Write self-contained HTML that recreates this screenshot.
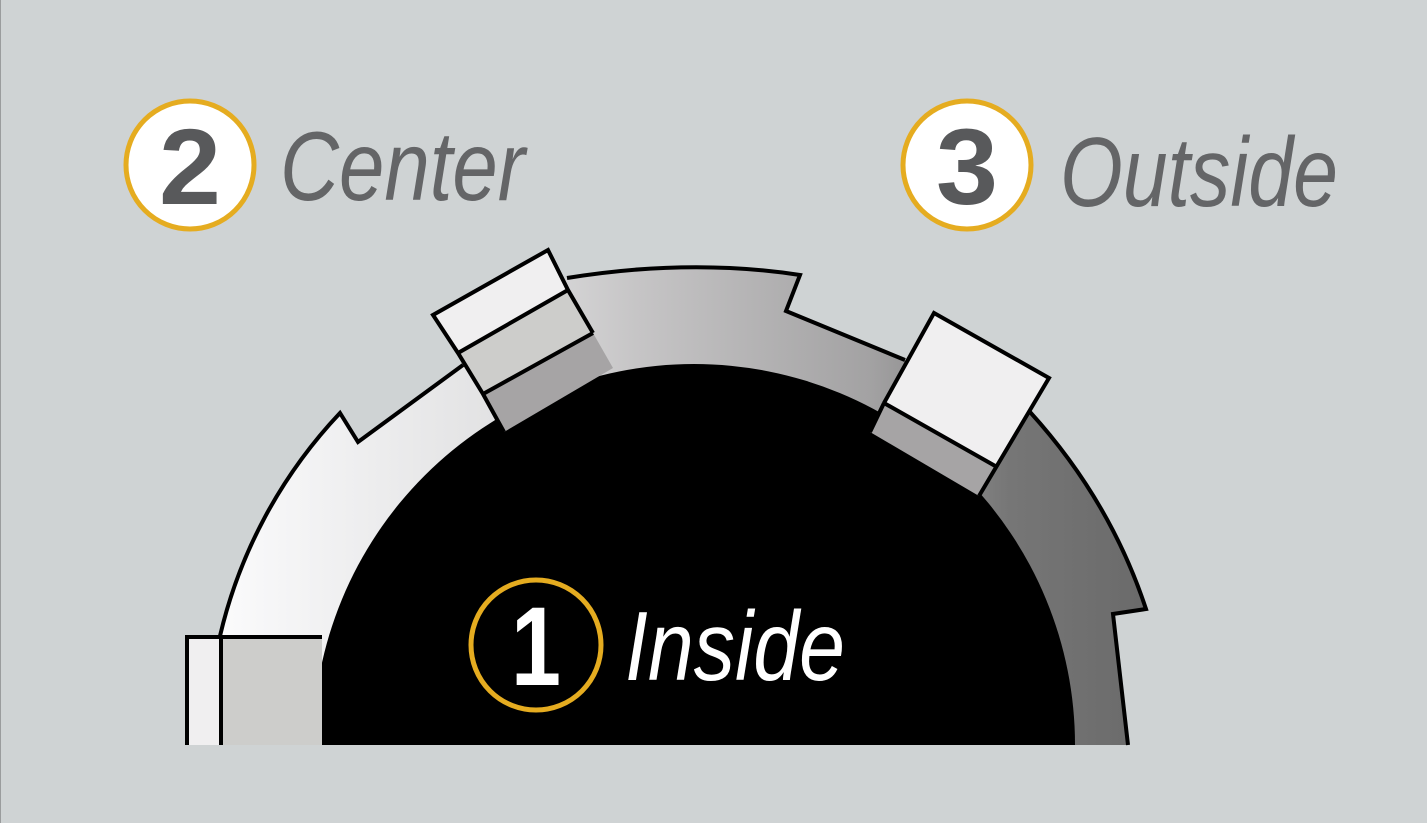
<!DOCTYPE html>
<html><head><meta charset="utf-8"><style>
html,body{margin:0;padding:0;background:#cfd3d4;}
svg{display:block}
</style></head><body>
<svg width="1427" height="823" viewBox="0 0 1427 823" xmlns="http://www.w3.org/2000/svg">
<defs>
<linearGradient id="rg" x1="215" y1="0" x2="1150" y2="0" gradientUnits="userSpaceOnUse">
<stop offset="0" stop-color="#fbfbfc"/>
<stop offset="0.3" stop-color="#e2e2e3"/>
<stop offset="0.45" stop-color="#c6c5c6"/>
<stop offset="0.7" stop-color="#a3a2a3"/>
<stop offset="0.85" stop-color="#767676"/>
<stop offset="1" stop-color="#6a6a6a"/>
</linearGradient>
</defs>
<rect x="0" y="0" width="1427" height="823" fill="#cfd3d4"/>
<line x1="0.5" y1="0" x2="0.5" y2="823" stroke="#9a9c9d" stroke-width="1"/>
<path d="M220,636 A486,486 0 0 1 340,413 L358,442 L463,365 L567,278 Q690,258 800,275 L786,311 L905,360 L1030,412 Q1110,500 1146,609 L1113,614 L1128,745 L1075,745 L313,745 L220,745 Z" fill="url(#rg)"/>
<path d="M220,636 A486,486 0 0 1 340,413 L358,442 L463,365 M567,278 Q690,258 800,275 L786,311 L905,360 M1030,412 Q1110,500 1146,609 L1113,614 L1128,745" fill="none" stroke="#000" stroke-width="4" stroke-linejoin="miter"/>
<path d="M313,745 A381,381 0 0 1 1075,745 Z" fill="#000"/>
<rect x="187" y="637" width="34" height="108" fill="#f0eff0"/>
<rect x="221" y="637" width="101" height="108" fill="#cdcdcb"/>
<path d="M187,745 L187,637 L322,637 M221,637 L221,745" fill="none" stroke="#000" stroke-width="4"/>
<polygon points="483,394 593,333 613,368 504,432" fill="#a6a4a5"/>
<polygon points="458,353 568,290 593,333 483,394" fill="#cdcdcb"/>
<polygon points="433,315 548,250 568,290 458,353" fill="#f0eff0"/>
<path d="M483,394 L458,353 L433,315 L548,250 L568,290 L593,333 M458,353 L568,290 M483,394 L593,333 M483,394 L504,432" fill="none" stroke="#000" stroke-width="4" stroke-linejoin="miter"/>
<polygon points="884,403 997,467 979,496 870,432" fill="#a6a4a5"/>
<polygon points="934,313 1049,378 997,467 884,403" fill="#f0eff0"/>
<path d="M884,403 L934,313 L1049,378 L979,496 M884,403 L997,467 M884,403 L870,432" fill="none" stroke="#000" stroke-width="4" stroke-linejoin="miter"/>
<circle cx="190" cy="165" r="64" fill="#fff" stroke="#e5ac20" stroke-width="5"/>
<text x="190" y="204" text-anchor="middle" font-family="Liberation Sans, sans-serif" font-weight="bold" font-size="108" fill="#58595b" textLength="62" lengthAdjust="spacingAndGlyphs">2</text>
<text x="280" y="200" font-family="Liberation Sans, sans-serif" font-style="italic" font-size="98" fill="#646567" textLength="245" lengthAdjust="spacingAndGlyphs">Center</text>
<circle cx="967" cy="165" r="64" fill="#fff" stroke="#e5ac20" stroke-width="5"/>
<text x="967" y="204" text-anchor="middle" font-family="Liberation Sans, sans-serif" font-weight="bold" font-size="108" fill="#58595b" textLength="62" lengthAdjust="spacingAndGlyphs">3</text>
<text x="1060" y="206" font-family="Liberation Sans, sans-serif" font-style="italic" font-size="98" fill="#646567" textLength="278" lengthAdjust="spacingAndGlyphs">Outside</text>
<circle cx="536" cy="645" r="65" fill="#000" stroke="#e5ac20" stroke-width="5"/>
<text x="536" y="685" text-anchor="middle" font-family="Liberation Sans, sans-serif" font-weight="bold" font-size="112" fill="#fff" textLength="50" lengthAdjust="spacingAndGlyphs">1</text>
<text x="625" y="680" font-family="Liberation Sans, sans-serif" font-style="italic" font-size="98" fill="#fff" textLength="220" lengthAdjust="spacingAndGlyphs">Inside</text>
</svg>
</body></html>
